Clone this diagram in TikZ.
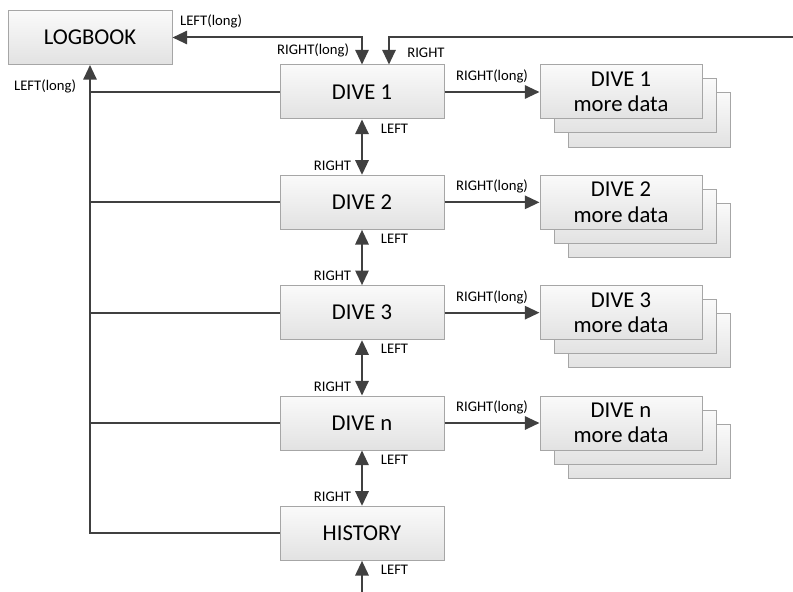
\documentclass[tikz,border=0pt]{standalone}
\usepackage{fontspec}
\setmainfont{Carlito}
\usetikzlibrary{arrows.meta,positioning}
\definecolor{ink}{HTML}{404040}
\definecolor{edge}{HTML}{A6A6A6}
\definecolor{shadeTop}{HTML}{FAFAFA}
\definecolor{shadeBot}{HTML}{E2E2E2}
\tikzset{
  basebox/.style={draw=edge,line width=0.75pt,top color=shadeTop,bottom color=shadeBot,align=center,font=\fontsize{17}{19}\selectfont,minimum width=123pt,minimum height=40.5pt,inner sep=2pt},
  databox/.style={basebox,minimum width=121.5pt},
  arrow/.style={-{Triangle[length=11pt,width=10pt]},line width=1.5pt,draw=ink},
  dblarrow/.style={arrow,{Triangle[length=11pt,width=10pt]}-{Triangle[length=11pt,width=10pt]}},
  bus/.style={line width=1.5pt,draw=ink},
  lbl/.style={font=\fontsize{11}{13}\selectfont,text=black,inner sep=3pt}
}

\begin{document}
\begin{tikzpicture}[x=0.75pt,y=-0.75pt]
  \useasboundingbox (0,0) rectangle (793,592);

  % main column
  \node[basebox] (logbook) at (90,37.5) {LOGBOOK};
  \node[basebox] (d1) at (362,92) {DIVE 1};
  \node[basebox,below=41.5pt of d1] (d2) {DIVE 2};
  \node[basebox,below=41.5pt of d2] (d3) {DIVE 3};
  \node[basebox,below=41.5pt of d3] (dn) {DIVE n};
  \node[basebox,below=41.5pt of dn] (hist) {HISTORY};

  % detail stacks
  \foreach \d/\n in {d1/1,d2/2,d3/3,dn/n}{
    \node[databox] at ([shift={(287,28)}]\d.center) {};
    \node[databox] at ([shift={(273,14)}]\d.center) {};
    \node[databox] (m\d) at ([shift={(259,0)}]\d.center) {DIVE \n\\more data};
    \draw[arrow] (\d) -- node[lbl,above=3pt]{RIGHT(long)} (m\d);
    \draw[bus] (\d.west) -- (\d.west -| logbook.south);
  }

  % top links
  \coordinate (rin) at (793,37);
  \coordinate (hin) at (362,592);
  \draw[dblarrow] (logbook.east) -| (d1.north)
    node[lbl,at start,anchor=south west,xshift=2pt,yshift=3pt]{LEFT(long)}
    node[lbl,at end,anchor=south east,xshift=-6pt,yshift=1.5pt]{RIGHT(long)};
  \draw[arrow] (rin) -| ([shift={(27,0)}]d1.north)
    node[lbl,at end,anchor=south west,xshift=10pt,yshift=1.5pt]{RIGHT};

  % chain
  \foreach \a/\b in {d1/d2,d2/d3,d3/dn,dn/hist}{
    \draw[dblarrow] (\a.south) -- (\b.north);
    \node[lbl,anchor=north west,xshift=11pt] at (\a.south) {LEFT};
    \node[lbl,anchor=south east,xshift=-5pt] at (\b.north) {RIGHT};
  }
  \draw[arrow] (hin) -- (hist.south);
  \node[lbl,anchor=north west,xshift=11pt] at (hist.south) {LEFT};

  % back to logbook
  \draw[arrow] (hist.west) -| (logbook.south)
    node[lbl,at end,anchor=north east,xshift=-6.75pt,yshift=-7.5pt]{LEFT(long)};
\end{tikzpicture}
\end{document}
